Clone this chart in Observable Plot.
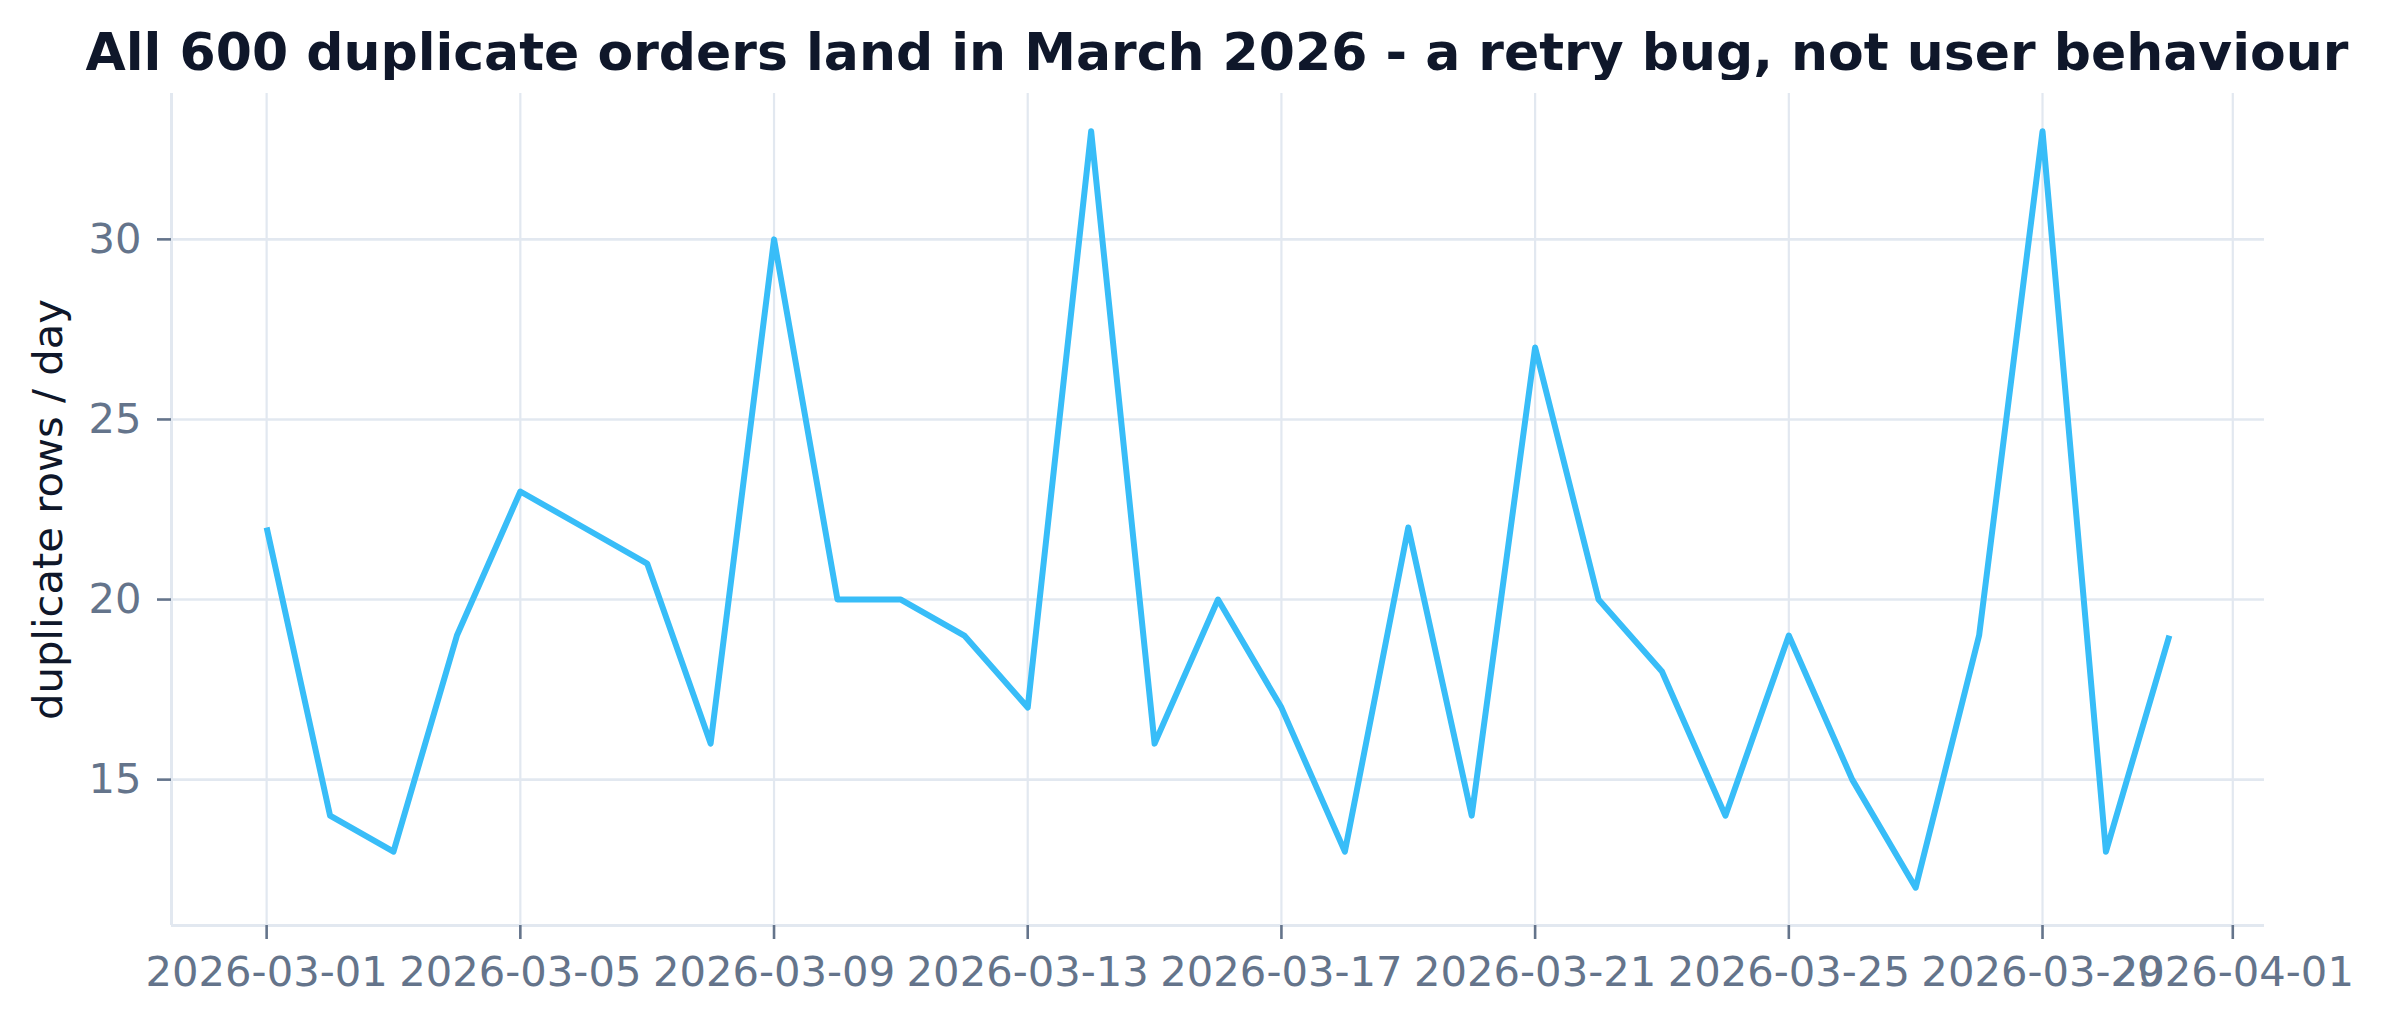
<!DOCTYPE html>
<html>
<head>
<meta charset="utf-8">
<script src="https://cdn.jsdelivr.net/npm/d3@7"></script>
<script src="https://cdn.jsdelivr.net/npm/@observablehq/plot@0.6"></script>
<style>
  html, body { margin: 0; padding: 0; background: #ffffff; }
  #wrap { position: relative; width: 2382px; height: 1026px; overflow: hidden; background: #ffffff; }
  #title { position: absolute; top: 12px; left: 1217px; transform: translateX(-50%); white-space: nowrap;
           font-family: "DejaVu Sans"; font-weight: bold; font-size: 52px; line-height: 80px; color: #0f172a; }
  #chart { position: absolute; top: 80px; left: 0; }
</style>
</head>
<body>
<div id="wrap">
  <div id="title">All 600 duplicate orders land in March 2026 - a retry bug, not user behaviour</div>
  <div id="chart"></div>
</div>
<script>
// ---- data ----
const days = [
  "2026-03-01","2026-03-02","2026-03-03","2026-03-04","2026-03-05","2026-03-06","2026-03-07",
  "2026-03-08","2026-03-09","2026-03-10","2026-03-11","2026-03-12","2026-03-13","2026-03-14",
  "2026-03-15","2026-03-16","2026-03-17","2026-03-18","2026-03-19","2026-03-20","2026-03-21",
  "2026-03-22","2026-03-23","2026-03-24","2026-03-25","2026-03-26","2026-03-27","2026-03-28",
  "2026-03-29","2026-03-30","2026-03-31"
];
const duplicates = [
  22, 14, 13, 19, 23, 22, 21,
  16, 30, 20, 20, 19, 17, 33,
  16, 20, 17, 13, 22, 14, 27,
  20, 18, 14, 19, 15, 12, 19,
  33, 13, 19
];
const xTickLabels = ["2026-03-01","2026-03-05","2026-03-09","2026-03-13","2026-03-17","2026-03-21","2026-03-25","2026-03-29","2026-04-01"];
const yTicks = [15, 20, 25, 30];
const yLabel = "duplicate rows / day";

// ---- build ----
const rows = days.map((d, i) => ({date: new Date(d + "T00:00:00Z"), value: duplicates[i]}));
const xTicks = xTickLabels.map(d => new Date(d + "T00:00:00Z"));
const x0 = rows[0].date.getTime(), x1 = rows[rows.length - 1].date.getTime();
const xPad = (x1 - x0) * 0.05;
const xDomain = [new Date(x0 - xPad), new Date(x1 + xPad)];
const yMin = d3.min(duplicates), yMax = d3.max(duplicates);
const yPad = (yMax - yMin) * 0.05;
const yDomain = [yMin - yPad, yMax + yPad];

const grid = "#e2e8f0";
const tickColor = "#64748b";
const fs = 41.7;

const chart = Plot.plot({
  width: 2382,
  height: 946,
  marginTop: 13,
  marginBottom: 101,
  marginLeft: 171,
  marginRight: 118,
  style: {fontFamily: "DejaVu Sans", background: "#ffffff", overflow: "visible"},
  x: {type: "utc", domain: xDomain},
  y: {domain: yDomain},
  marks: [
    Plot.gridX(xTicks, {stroke: grid, strokeOpacity: 1, strokeWidth: 2.2}),
    Plot.gridY(yTicks, {stroke: grid, strokeOpacity: 1, strokeWidth: 2.6}),
    Plot.ruleX([xDomain[0]], {stroke: grid, strokeWidth: 3}),
    Plot.ruleY([yDomain[0]], {stroke: grid, strokeWidth: 3}),
    Plot.lineY(rows, {x: "date", y: "value", stroke: "#38bdf8", strokeWidth: 6, strokeLinejoin: "round", strokeLinecap: "butt"}),
    Plot.axisY(yTicks, {
      tickSize: 14, tickPadding: 16, color: tickColor, strokeWidth: 2.6,
      fontSize: fs, label: null, tickFormat: d => String(d)
    }),
    Plot.axisX(xTicks, {
      tickSize: 14, tickPadding: 17, color: tickColor, strokeWidth: 2.6,
      fontSize: fs, label: null, tickFormat: d3.utcFormat("%Y-%m-%d")
    }),
    Plot.text([yLabel], {
      text: d => d, frameAnchor: "left", rotate: -90, dx: -123,
      fontSize: fs, fill: "#0f172a", textAnchor: "middle", lineAnchor: "middle"
    })
  ]
});
document.getElementById("chart").appendChild(chart);
</script>
</body>
</html>
